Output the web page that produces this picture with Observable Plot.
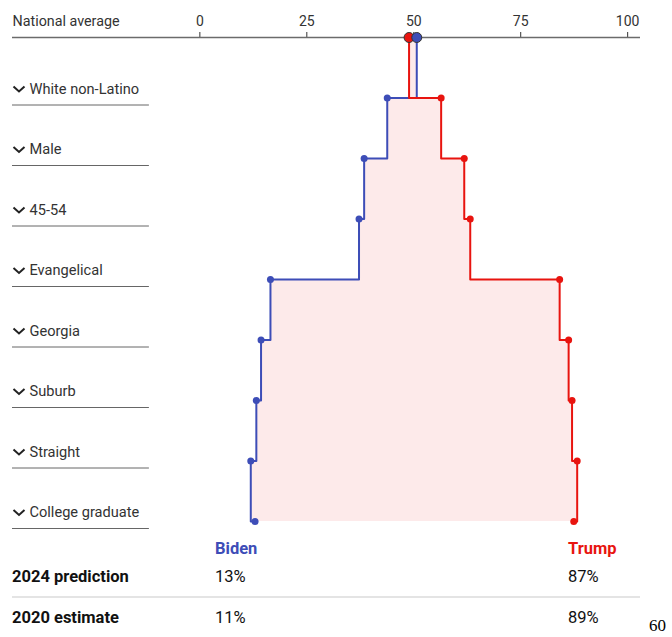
<!DOCTYPE html>
<html>
<head>
<meta charset="utf-8">
<script src="https://cdn.jsdelivr.net/npm/d3@7"></script>
<script src="https://cdn.jsdelivr.net/npm/@observablehq/plot@0.6"></script>
<style>
  body { margin: 0; background: #fff; font-family: Roboto, "Liberation Sans", sans-serif; }
  #wrap { position: relative; width: 672px; height: 637px; }
  .t { position: absolute; font-size: 16.5px; line-height: 20px; white-space: nowrap; color: #111; }
  .b { font-weight: bold; }
  .sep { position: absolute; left: 12px; width: 628px; top: 596px; height: 2px; background: #e4e4e4; }
  .pg { position: absolute; left: 649px; top: 616px; font-family: "Liberation Serif", "DejaVu Serif", serif; font-size: 17px; color: #000; }
</style>
</head>
<body>
<div id="wrap"></div>
<script>
// ---- data ----
const categories = ["National average", "White non-Latino", "Male", "45-54", "Evangelical", "Georgia", "Suburb", "Straight", "College graduate"];
const bidenShare = [50.7, 43.8, 38.4, 37.2, 16.5, 14.3, 13.2, 11.9, 12.9];
const trumpShare = [48.9, 56.4, 61.8, 63.2, 84.1, 86.2, 87.0, 88.2, 87.4];
const xTicks = [0, 25, 50, 75, 100];
const candidates = ["Biden", "Trump"];
const prediction2024 = [13, 87];
const estimate2020 = [11, 89];
const rowLabels = ["2024 prediction", "2020 estimate"];

const BLUE = "#3d4db7";
const RED = "#e8140f";
const FILL = "#fdeaea";

const rows = categories.map((c, i) => ({ i, cat: c, biden: bidenShare[i], trump: trumpShare[i] }));
const national = rows.slice(0, 1);
const groups = rows.slice(1);

const xDomain = [-43.8, 103];
const labelEnd = -11.8; // end of underline under row labels (x units)

const chevron = {
  draw(ctx, size) {
    const w = Math.sqrt(size / Math.PI);
    ctx.moveTo(-w, -w * 0.45);
    ctx.lineTo(0, w * 0.45);
    ctx.lineTo(w, -w * 0.45);
  }
};

const chart = Plot.plot({
  width: 672,
  height: 535,
  marginLeft: 12,
  marginRight: 32,
  marginTop: 37,
  marginBottom: 14,
  style: { fontFamily: "Roboto, 'Liberation Sans', sans-serif", color: "#333", background: "#fff" },
  x: { domain: xDomain, axis: null },
  y: { domain: [0, 8], range: [37, 521], axis: null },
  marks: [
    Plot.areaX(rows, { y: "i", x1: "biden", x2: "trump", curve: "step-before", fill: FILL }),
    Plot.axisX(xTicks, { anchor: "top", tickSize: 6, tickPadding: 6, fontSize: 14, stroke: "#333", fill: "#333" }),
    Plot.ruleY([0], { stroke: "#6b6b6b", strokeWidth: 1.5 }),
    Plot.ruleY(groups, { y: "i", x1: () => xDomain[0], x2: () => labelEnd, dy: 7, stroke: "#666", strokeWidth: 1 }),
    Plot.text(national, { y: "i", text: "cat", frameAnchor: "left", textAnchor: "start", dy: -16, fontSize: 14.3, fill: "#333" }),
    Plot.text(groups, { y: "i", text: "cat", frameAnchor: "left", textAnchor: "start", dx: 17, dy: -9, fontSize: 14.6, fill: "#333" }),
    Plot.dot(groups, { y: "i", x: () => xDomain[0], dx: 6.5, dy: -9, symbol: chevron, r: 5.5, stroke: "#222", strokeWidth: 2, fill: "none" }),
    Plot.line(rows, { x: "biden", y: "i", curve: "step-before", stroke: BLUE, strokeWidth: 2 }),
    Plot.line(rows, { x: "trump", y: "i", curve: "step-before", stroke: RED, strokeWidth: 2 }),
    Plot.dot(groups, { x: "biden", y: "i", r: 3.5, fill: BLUE }),
    Plot.dot(groups, { x: "trump", y: "i", r: 3.5, fill: RED }),
    Plot.dot(national, { x: "trump", y: "i", r: 5, fill: RED, stroke: "#333", strokeWidth: 1 }),
    Plot.dot(national, { x: "biden", y: "i", r: 5, fill: BLUE, stroke: "#333", strokeWidth: 1 })
  ]
});

const wrap = document.getElementById("wrap");
wrap.appendChild(chart);

// ---- bottom table ----
const colX = [215, 568];
function addText(txt, x, y, cls, color) {
  const d = document.createElement("div");
  d.className = "t " + cls;
  d.textContent = txt;
  d.style.left = x + "px";
  d.style.top = y + "px";
  if (color) d.style.color = color;
  wrap.appendChild(d);
}
const candColors = [BLUE, RED];
candidates.forEach((c, k) => addText(c, colX[k], 539, "b", candColors[k]));
addText(rowLabels[0], 12, 567, "b");
prediction2024.forEach((v, k) => addText(v + "%", colX[k], 567, ""));
const sep = document.createElement("div"); sep.className = "sep"; wrap.appendChild(sep);
addText(rowLabels[1], 12, 608, "b");
estimate2020.forEach((v, k) => addText(v + "%", colX[k], 608, ""));
const pg = document.createElement("div"); pg.className = "pg"; pg.textContent = "60"; wrap.appendChild(pg);
</script>
</body>
</html>
